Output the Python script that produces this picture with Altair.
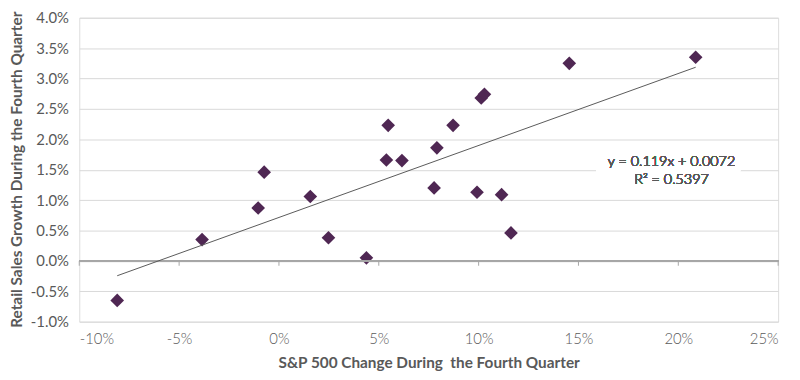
import altair as alt
import pandas as pd

# S&P 500 change during Q4 (fraction) and retail sales growth during Q4 (fraction)
sp500_change = [-0.0810, -0.0385, -0.0104, -0.0074, 0.0157, 0.0248, 0.0438, 0.0538,
                0.0547, 0.0616, 0.0777, 0.0791, 0.0872, 0.0992, 0.1013, 0.1029,
                0.1115, 0.1162, 0.1454, 0.2087]
retail_growth = [-0.0065, 0.0035, 0.0087, 0.0146, 0.0106, 0.0038, 0.0005, 0.0166,
                 0.0223, 0.0165, 0.0120, 0.0186, 0.0223, 0.0113, 0.0268, 0.0274,
                 0.0109, 0.0046, 0.0325, 0.0335]
x_ticks = [-0.10, -0.05, 0.0, 0.05, 0.10, 0.15, 0.20, 0.25]
y_ticks = [-0.010, -0.005, 0.0, 0.005, 0.010, 0.015, 0.020, 0.025, 0.030, 0.035, 0.040]
equation_lines = ["y = 0.119x + 0.0072", "R\u00b2 = 0.5397"]

FONT = "Lato"
GRAY = "#595959"
PURPLE = "#4f2753"

df = pd.DataFrame({"x": sp500_change, "y": retail_growth})
ticks_df = pd.DataFrame({"x": x_ticks})

x_enc = alt.X(
    "x:Q",
    title="S&P 500 Change During\u00a0 the Fourth Quarter",
    scale=alt.Scale(domain=[-0.10, 0.25], nice=False, zero=False),
    axis=alt.Axis(
        values=x_ticks, tickCount=len(x_ticks),
        labelExpr="replace(format(datum.value, '.0%'), '\u2212', '-')",
        grid=False, ticks=False, domain=False, labelOverlap=False,
        labelFont=FONT, labelFontSize=15, labelColor=GRAY, labelFontWeight=300,
        labelPadding=10,
        titleFont=FONT, titleFontSize=15.5, titleFontWeight="bold", titleColor=GRAY,
        titlePadding=9,
    ),
)
y_enc = alt.Y(
    "y:Q",
    title="Retail Sales Growth During the Fourth Quarter",
    scale=alt.Scale(domain=[-0.010, 0.040], nice=False, zero=False),
    axis=alt.Axis(
        values=y_ticks, tickCount=len(y_ticks),
        labelExpr="replace(format(datum.value, '.1%'), '\u2212', '-')",
        grid=True, gridColor="#d9d9d9", gridWidth=1,
        ticks=False, domain=False, labelOverlap=False,
        labelFont=FONT, labelFontSize=15, labelColor=GRAY,
        labelPadding=11,
        titleFont=FONT, titleFontSize=15.5, titleFontWeight="bold", titleColor=GRAY,
        titleX=-63, titleY=153, titleBaseline="middle", titleAlign="center", titleAngle=270,
    ),
)

points = alt.Chart(df).mark_point(
    shape="diamond", filled=True, size=190, color=PURPLE, opacity=1
).encode(x=x_enc, y=y_enc)

trend = alt.Chart(df).transform_regression("x", "y").mark_line(
    color=GRAY, strokeWidth=1
).encode(x=x_enc, y=y_enc)

zero_line = alt.Chart(df).mark_rule(
    color="#a6a6a6", strokeWidth=1
).encode(y=alt.datum(0.0))

tick_marks = alt.Chart(ticks_df).mark_rule(color="#a6a6a6", strokeWidth=1).encode(
    x=x_enc, y=alt.datum(0.0), y2=alt.datum(-0.0008)
)

label_bg = alt.Chart(df).mark_rect(color="white").encode(
    x=alt.datum(0.159), x2=alt.datum(0.231), y=alt.datum(0.0144), y2=alt.datum(0.0156)
)

eq_text = alt.Chart(df).mark_text(
    text=equation_lines[0], font=FONT, fontSize=14.5, fontWeight=300, color=GRAY,
    align="center", baseline="middle"
).encode(x=alt.datum(0.1966), y=alt.datum(0.0163))

r2_text = alt.Chart(df).mark_text(
    text=equation_lines[1], font=FONT, fontSize=14.5, fontWeight=300, color=GRAY,
    align="center", baseline="middle"
).encode(x=alt.datum(0.1966), y=alt.datum(0.0133))

chart = alt.layer(
    points, label_bg, zero_line, tick_marks, trend, eq_text, r2_text
).properties(
    width=706, height=307,
    autosize=alt.AutoSizeParams(type="none"),
    padding={"left": 72, "top": 8, "right": 14, "bottom": 50},
).configure_view(stroke=None).configure(background="white")

chart.save("out.html", embed_options={"renderer": "svg", "actions": False})
